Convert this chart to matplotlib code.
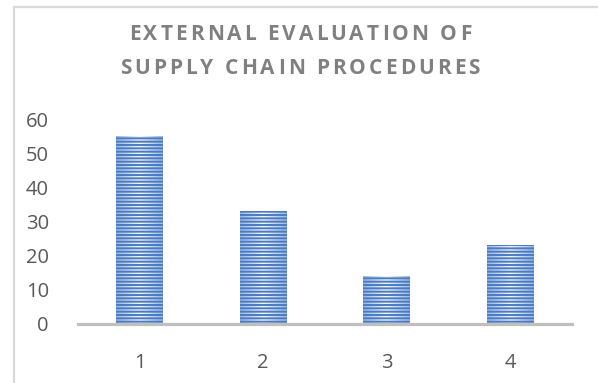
import numpy as np
import matplotlib
matplotlib.use("Agg")
import matplotlib.pyplot as plt
from matplotlib.lines import Line2D
from matplotlib.colors import LinearSegmentedColormap

categories = ["1", "2", "3", "4"]
values = [55, 33, 14, 23]
y_ticks = [0, 10, 20, 30, 40, 50, 60]
title_lines = ["EXTERNAL EVALUATION OF", "SUPPLY CHAIN PROCEDURES"]

W, H, DPI = 598, 383, 100
plt.rcParams["font.family"] = ["Open Sans", "DejaVu Sans"]
plt.rcParams["hatch.linewidth"] = 1.4

fig = plt.figure(figsize=(W / DPI, H / DPI), dpi=DPI)
ax = fig.add_axes([78 / W, (H - 323.5) / H, (572 - 78) / W, (323.5 - 119) / H])

x = np.arange(len(categories))
bar_w = 0.377
bars = ax.bar(x, values, width=bar_w, color="none", edgecolor="none", zorder=2)

# soft horizontal gradient inside each bar, then a striped hatch on top
cmap = LinearSegmentedColormap.from_list(
    "barfill", ["#9ab7e2", "#f5f8fd", "#9ab7e2"])
grad = np.linspace(0, 1, 64).reshape(1, -1)
for b in bars:
    x0, w, h = b.get_x(), b.get_width(), b.get_height()
    im = ax.imshow(grad, extent=[x0, x0 + w, 0, h], aspect="auto",
                   cmap=cmap, zorder=2, interpolation="bilinear")
    im.set_clip_path(b)
    ax.bar(b.get_x() + w / 2, h, width=w, color="none",
           edgecolor="#4a7bc2", linewidth=0, hatch="-----", zorder=3)

ax.set_xlim(-0.5, len(categories) - 0.5)
ax.set_ylim(0, 60)
ax.set_xticks(x)
ax.set_xticklabels(categories)
ax.set_yticks(y_ticks)
ax.set_yticklabels([str(t) for t in y_ticks])
ax.tick_params(axis="both", length=0, labelsize=14.5, labelcolor="#595959")
ax.tick_params(axis="y", pad=21)
ax.tick_params(axis="x", pad=21)
for s in ["top", "right", "left"]:
    ax.spines[s].set_visible(False)
ax.spines["bottom"].set_color("#bfbfbf")
ax.spines["bottom"].set_linewidth(2.3)
ax.spines["bottom"].set_zorder(4)

# outer chart border (partially visible)
fig.add_artist(Line2D([13.5 / W, 13.5 / W], [0, 1 - 6.5 / H],
                      transform=fig.transFigure, color="#d9d9d9", lw=1.6))
fig.add_artist(Line2D([13.5 / W, 1], [1 - 6.5 / H, 1 - 6.5 / H],
                      transform=fig.transFigure, color="#d9d9d9", lw=1.6))

# letter-spaced title, drawn character by character
renderer = fig.canvas.get_renderer()
title_size = 15
spacing_px = 3.0
centers_y = [34, 69]
for line, cy in zip(title_lines, centers_y):
    widths = []
    for ch in line:
        t = fig.text(0, 0, ch if ch != " " else "n", fontsize=title_size,
                     fontweight="bold")
        wpx = t.get_window_extent(renderer).width
        if ch == " ":
            wpx *= 0.4
        widths.append(wpx)
        t.remove()
    total = sum(widths) + spacing_px * (len(line) - 1)
    xpos = 300 - total / 2
    for ch, wpx in zip(line, widths):
        if ch != " ":
            fig.text(xpos / W, 1 - cy / H, ch, fontsize=title_size,
                     fontweight="bold", color="#808080",
                     ha="left", va="center")
        xpos += wpx + spacing_px

fig.savefig("out.png", dpi=DPI)
